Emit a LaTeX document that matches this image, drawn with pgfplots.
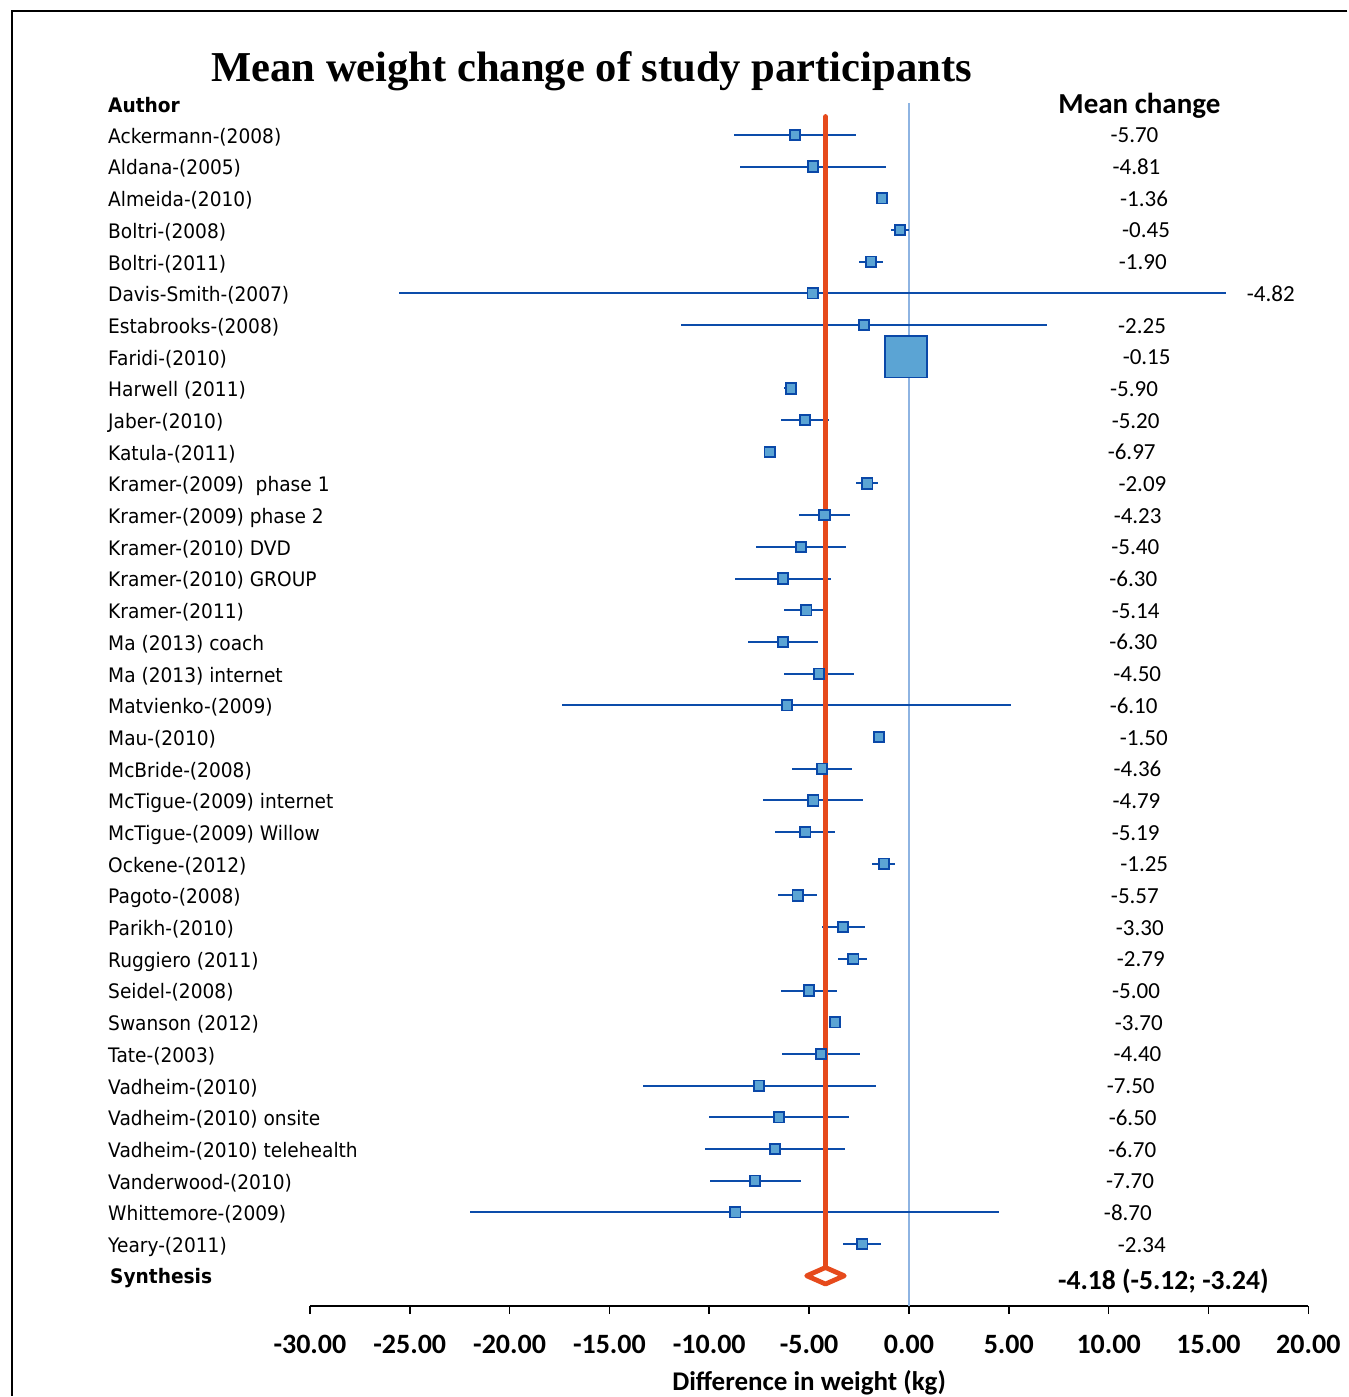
\documentclass[border=0pt]{standalone}
\usepackage{pgfplots}
\pgfplotsset{compat=1.18}
\usepackage{pgfplotstable}
\usepackage{fontspec}
\setmainfont{DejaVu Sans}[FakeStretch=0.93]
\newfontfamily\carlito{Carlito}
\newfontfamily\timesf{Liberation Serif}
\definecolor{redl}{RGB}{230,74,28}
\definecolor{boxfill}{RGB}{91,164,212}
\definecolor{boxdraw}{RGB}{10,72,168}
\definecolor{cibar}{RGB}{12,76,170}
\definecolor{zeroline}{RGB}{142,180,226}
\newcommand\lab{\fontsize{10pt}{12pt}\selectfont}
\newcommand\vlab{\carlito\fontsize{11.5pt}{13pt}\selectfont}

\pgfplotstableread[col sep=comma]{
idx,mean,lo,hi,lx,name
1,-5.70,-8.78,-2.64,12.51,Ackermann-(2008)
2,-4.81,-8.48,-1.16,12.61,Aldana-(2005)
3,-1.36,-1.50,-1.22,12.99,Almeida-(2010)
4,-0.45,-0.89,-0.01,13.09,Boltri-(2008)
5,-1.90,-2.51,-1.30,12.93,Boltri-(2011)
6,-4.82,-25.52,15.89,19.34,Davis-Smith-(2007)
7,-2.25,-11.44,6.93,12.89,Estabrooks-(2008)
8,-0.15,-0.40,0.10,13.12,Faridi-(2010)
9,-5.90,-6.25,-5.59,12.49,Harwell (2011)
10,-5.20,-6.39,-4.01,12.57,Jaber-(2010)
11,-6.97,-7.10,-6.84,12.37,Katula-(2011)
12,-2.09,-2.64,-1.55,12.91,Kramer-(2009)~ phase 1
13,-4.23,-5.50,-2.94,12.67,Kramer-(2009) phase 2
14,-5.40,-7.64,-3.16,12.55,Kramer-(2010) DVD
15,-6.30,-8.71,-3.89,12.45,Kramer-(2010) GROUP
16,-5.14,-6.27,-4.07,12.57,Kramer-(2011)
17,-6.30,-8.05,-4.57,12.45,Ma (2013) coach
18,-4.50,-6.27,-2.76,12.65,Ma (2013) internet
19,-6.10,-17.39,5.13,12.47,Matvienko-(2009)
20,-1.50,-1.63,-1.37,12.98,Mau-(2010)
21,-4.36,-5.86,-2.87,12.66,McBride-(2008)
22,-4.79,-7.29,-2.28,12.61,McTigue-(2009) internet
23,-5.19,-6.73,-3.69,12.57,McTigue-(2009) Willow
24,-1.25,-1.83,-0.69,13.00,Ockene-(2012)
25,-5.57,-6.57,-4.60,12.53,Pagoto-(2008)
26,-3.30,-4.37,-2.19,12.78,Parikh-(2010)
27,-2.79,-3.53,-2.08,12.83,Ruggiero (2011)
28,-5.00,-6.39,-3.62,12.59,Seidel-(2008)
29,-3.70,-3.83,-3.57,12.73,Swanson (2012)
30,-4.40,-6.34,-2.46,12.66,Tate-(2003)
31,-7.50,-13.34,-1.66,12.32,Vadheim-(2010)
32,-6.50,-10.02,-2.98,12.42,Vadheim-(2010) onsite
33,-6.70,-10.20,-3.19,12.40,Vadheim-(2010) telehealth
34,-7.70,-9.97,-5.41,12.29,Vanderwood-(2010)
35,-8.70,-22.00,4.53,12.18,Whittemore-(2009)
36,-2.34,-3.32,-1.39,12.88,Yeary-(2011)
}\studies

\begin{document}
\begin{tikzpicture}
\begin{axis}[
  scale only axis,
  width=499.5pt, height=601.85pt,
  xmin=-30, xmax=20, ymin=-37.96, ymax=0,
  clip=false,
  axis y line=none,
  axis x line*=bottom,
  axis line style={-, line width=0.9pt, black},
  xtick={-30,-25,...,20},
  xticklabels={-30.00,-25.00,-20.00,-15.00,-10.00,-5.00,0.00,5.00,10.00,15.00,20.00},
  tick align=outside,
  major tick length=4pt,
  tick style={line width=0.8pt, black},
  xticklabel style={font=\carlito\bfseries\fontsize{14pt}{16pt}\selectfont, yshift=-7pt},
  ytick=\empty,
]
% zero line
\addplot[zeroline, line width=1.2pt] coordinates {(0,0.01) (0,-37.96)};
% confidence intervals
\addplot[only marks, mark=none,
  error bars/.cd, x dir=both, x explicit, error mark=none,
  error bar style={draw=cibar, solid, line width=1pt}]
  table[x=mean, y expr=-\thisrow{idx},
        x error plus expr=\thisrow{hi}-\thisrow{mean},
        x error minus expr=\thisrow{mean}-\thisrow{lo}] {\studies};
% synthesis line
\addplot[redl, line width=2.7pt, line cap=round] coordinates {(-4.18,-0.43) (-4.18,-36.74)};
% study boxes
\addplot[only marks, mark=square*, mark size=2.6pt,
  mark options={fill=boxfill, draw=boxdraw, line width=0.9pt}]
  table[x=mean, y expr=-\thisrow{idx}] {\studies};
\addplot[only marks, mark=square*, mark size=10.4pt,
  restrict expr to domain={\thisrow{idx}}{8:8},
  mark options={fill=boxfill, draw=boxdraw, line width=0.9pt}]
  table[x=mean, y expr=-\thisrow{idx}] {\studies};
% synthesis diamond
\addplot[draw=redl, fill=white, line width=2.4pt, line join=round]
  coordinates {(-5.12,-37) (-4.18,-36.74) (-3.24,-37) (-4.18,-37.26)} --cycle;
% author labels
\addplot[only marks, mark=none, point meta=explicit symbolic, nodes near coords,
  every node near coord/.append style={anchor=base west, yshift=-4.2pt, inner sep=0pt, font=\lab, black}]
  table[x expr=-40.12, y expr=-\thisrow{idx}, meta=name] {\studies};
% mean change labels
\addplot[only marks, mark=none, point meta=explicit symbolic, nodes near coords,
  every node near coord/.append style={anchor=base east, yshift=-4pt, inner sep=0pt, font=\vlab, black}]
  table[x=lx, y expr=-\thisrow{idx}, meta=mean] {\studies};

\node[anchor=base, inner sep=0pt, font=\timesf\bfseries\fontsize{21.3pt}{24pt}\selectfont] at (axis cs:-15.89,0.671) {Mean weight change of study participants};
\node[anchor=base west, inner sep=0pt, font=\bfseries\fontsize{10pt}{12pt}\selectfont] at (axis cs:-40.12,-0.29) {Author};
\node[anchor=base, inner sep=0pt, font=\carlito\bfseries\fontsize{14.5pt}{16pt}\selectfont] at (axis cs:11.54,-0.338) {Mean change};
\node[anchor=base west, inner sep=0pt, font=\bfseries\fontsize{10pt}{12pt}\selectfont] at (axis cs:-40.02,-37.24) {Synthesis};
\node[anchor=base, inner sep=0pt, font=\carlito\bfseries\fontsize{13.8pt}{16pt}\selectfont] at (axis cs:12.74,-37.42) {-4.18 (-5.12; -3.24)};
\node[anchor=base, inner sep=0pt, font=\carlito\bfseries\fontsize{13.5pt}{16pt}\selectfont] at (axis cs:-5,-40.61) {Difference in weight (kg)};
% frame
\draw[line width=0.8pt, black] (axis cs:21.95,2.91) -- (axis cs:-44.93,2.91) -- (axis cs:-44.93,-40.80);
\path (axis cs:-45.52,3.257) rectangle (axis cs:21.95,-40.80);
\end{axis}
\end{tikzpicture}
\end{document}
